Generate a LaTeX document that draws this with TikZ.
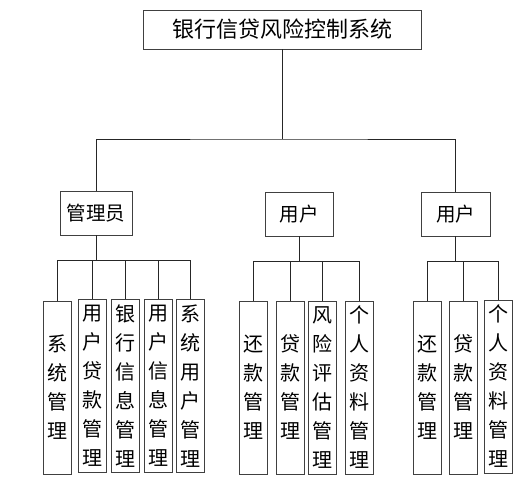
\documentclass[tikz,border=0pt]{standalone}
\usepackage{fontspec}
\newfontfamily\cjk{Noto Sans CJK SC}
\begin{document}
\begin{tikzpicture}[x=1pt,y=-1pt,
  box/.style={draw=black!75, line width=0.9pt, rectangle, inner sep=0pt, align=center},
  leaf/.style={box, minimum width=28pt, minimum height=173pt, font=\cjk\fontsize{20}{29}\selectfont},
  mid/.style={box, minimum height=44pt, font=\cjk\fontsize{19.5}{22}\selectfont},
  link/.style={draw=black!85, line width=0.9pt}]
\useasboundingbox (0,0) rectangle (528,489);
\fill[white] (0,0) rectangle (528,489);
% top
\node[box, minimum width=278pt, minimum height=39pt, font=\cjk\fontsize{22}{24}\selectfont] (top) at (282,29.5) {银行信贷风险控制系统};
% second level
\node[mid, minimum width=72pt] (admin) at (96,213) {管理员};
\node[mid, minimum width=68pt] (user1) at (299,214) {用户};
\node[mid, minimum width=69pt] (user2) at (455.5,214) {用户};
\coordinate (j0) at (282,139);
\draw[link] (top.south) -- (j0);
\draw[link] (admin.north) |- (j0) -| (user2.north);
% admin children
\node[leaf] (a1) at (57.5,387.5) {系\\统\\管\\理};
\node[leaf] (a2) at (92.5,386) {用\\户\\贷\\款\\管\\理};
\node[leaf] (a3) at (125,386) {银\\行\\信\\息\\管\\理};
\node[leaf] (a4) at (158,386) {用\\户\\信\\息\\管\\理};
\node[leaf] (a5) at (190.5,386) {系\\统\\用\\户\\管\\理};
\coordinate (j1) at (96,260);
\draw[link] (admin.south) -- (j1);
\draw[link] (a1.north) |- (a5.north |- j1) -- (a5.north);
\foreach \n in {a2,a3,a4} \draw[link] (\n.north) -- (\n.north |- j1);
% user1 children
\node[leaf] (b1) at (253.5,387.5) {还\\款\\管\\理};
\node[leaf] (b2) at (290.5,387.5) {贷\\款\\管\\理};
\node[leaf] (b3) at (322,387.5) {风\\险\\评\\估\\管\\理};
\node[leaf] (b4) at (359.5,387.5) {个\\人\\资\\料\\管\\理};
\coordinate (j2) at (299,261);
\draw[link] (user1.south) -- (j2);
\draw[link] (b1.north) |- (b4.north |- j2) -- (b4.north);
\foreach \n in {b2,b3} \draw[link] (\n.north) -- (\n.north |- j2);
% user2 children
\node[leaf] (c1) at (427,387.5) {还\\款\\管\\理};
\node[leaf] (c2) at (463,387.5) {贷\\款\\管\\理};
\node[leaf] (c3) at (498,386.5) {个\\人\\资\\料\\管\\理};
\coordinate (j3) at (455.5,261);
\draw[link] (user2.south) -- (j3);
\draw[link] (c1.north) |- (c3.north |- j3) -- (c3.north);
\draw[link] (c2.north) -- (c2.north |- j3);
\end{tikzpicture}
\end{document}
